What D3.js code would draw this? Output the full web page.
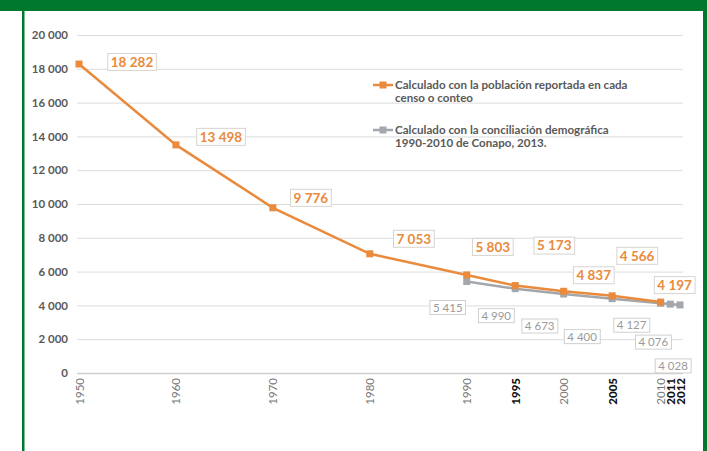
<!DOCTYPE html>
<html>
<head>
<meta charset="utf-8">
<script src="https://cdn.jsdelivr.net/npm/d3@7"></script>
<style>
  html, body { margin: 0; padding: 0; background: #fff; }
  svg { display: block; font-family: Lato, "Open Sans", sans-serif; }
</style>
</head>
<body>
<div id="chart"></div>
<script>
// --- data ---
const years = [1950, 1960, 1970, 1980, 1990, 1995, 2000, 2005, 2010, 2011, 2012];
const boldYears = [1995, 2005, 2011, 2012];
const yTicks = [0, 2000, 4000, 6000, 8000, 10000, 12000, 14000, 16000, 18000, 20000];

const censusYears = [1950, 1960, 1970, 1980, 1990, 1995, 2000, 2005, 2010];
const censusValues = [18282, 13498, 9776, 7053, 5803, 5173, 4837, 4566, 4197];

const conapoYears = [1990, 1995, 2000, 2005, 2010, 2011, 2012];
const conapoValues = [5415, 4990, 4673, 4400, 4127, 4076, 4028];

const legendLabels = [
  ["Calculado con la población reportada en cada", "censo o conteo"],
  ["Calculado con la conciliación demográfica", "1990-2010 de Conapo, 2013."]
];

// label placement (pixels, relative to the point)
const censusLabelOffsets = [[53, -2], [45, -8], [38, -10], [44, -15], [26, -28], [39, -40], [30, -16], [25, -40], [14, -17]];
const conapoLabelOffsets = [[-19, 26], [-19, 27], [-24, 32], [-30, 38], [-29, 22], [-17, 38], [-7, 61]];

const W = 707, H = 451;
const orange = "#e98a3c", grey = "#a3a7ab";

const svg = d3.select("#chart").append("svg")
  .attr("width", W)
  .attr("height", H);

/* frame */
svg.append("rect").attr("x", 0).attr("y", 0).attr("width", W).attr("height", 11).attr("fill", "#00782d");
svg.append("rect").attr("x", 22).attr("y", 0).attr("width", 2.5).attr("height", H).attr("fill", "#00782d");
svg.append("rect").attr("x", 703).attr("y", 0).attr("width", 4).attr("height", H).attr("fill", "#00782d");

const x = d3.scaleLinear().domain([1950, 2012]).range([79, 680]);
const y = d3.scaleLinear().domain([0, 20000]).range([373, 35]);

const fmt = (v) => d3.format(",")(v).replace(/,/g, " ");

/* y axis + gridlines */
const yAxis = svg.append("g")
  .attr("transform", "translate(77,0)")
  .call(d3.axisLeft(y).tickValues(yTicks).tickSize(-606).tickPadding(9).tickFormat(fmt));
yAxis.select(".domain").remove();
yAxis.selectAll(".tick line")
  .attr("stroke", (d) => d === 0 ? "#cfcfcf" : "#dcdcdc")
  .attr("stroke-width", (d) => d === 0 ? 1.6 : 1);
yAxis.selectAll(".tick text")
  .attr("fill", "#595959")
  .attr("font-size", "11.5px")
  .attr("font-weight", "bold")
  .attr("font-family", "Lato, sans-serif");

/* x axis */
const xAxis = svg.append("g")
  .attr("transform", "translate(0,373)")
  .call(d3.axisBottom(x).tickValues(years).tickSize(0).tickFormat(d3.format("d")));
xAxis.select(".domain").remove();
xAxis.selectAll(".tick text")
  .attr("transform", "rotate(-90)")
  .attr("text-anchor", "end")
  .attr("x", -5)
  .attr("y", 0)
  .attr("dy", "0.35em")
  .attr("font-size", "11.5px")
  .attr("font-family", "Lato, sans-serif")
  .attr("font-weight", (d) => boldYears.includes(d) ? "900" : "normal")
  .attr("fill", (d) => boldYears.includes(d) ? "#111" : "#777");

/* series */
const line = d3.line().x((d) => x(d[0])).y((d) => y(d[1]));

function drawSeries(xs, vs, color, cls) {
  const pts = xs.map((yr, i) => [yr, vs[i]]);
  const g = svg.append("g").attr("class", cls);
  g.append("path")
    .datum(pts)
    .attr("d", line)
    .attr("fill", "none")
    .attr("stroke", color)
    .attr("stroke-width", 2.5);
  g.selectAll("rect")
    .data(pts)
    .enter().append("rect")
    .attr("x", (d) => x(d[0]) - 3.5)
    .attr("y", (d) => y(d[1]) - 3.5)
    .attr("width", 7)
    .attr("height", 7)
    .attr("fill", color);
  return pts;
}

const conapoPts = drawSeries(conapoYears, conapoValues, grey, "conapo");
const censusPts = drawSeries(censusYears, censusValues, orange, "census");

/* data labels */
function drawLabels(pts, offsets, opts) {
  const g = svg.append("g");
  pts.forEach((d, i) => {
    const cx = x(d[0]) + offsets[i][0];
    const cy = y(d[1]) + offsets[i][1];
    const lg = g.append("g").attr("transform", `translate(${cx},${cy})`);
    const box = lg.append("rect").attr("fill", "#fff").attr("stroke", opts.border).attr("stroke-width", 1);
    const t = lg.append("text")
      .attr("text-anchor", "middle")
      .attr("dy", "0.36em")
      .attr("font-size", opts.size)
      .attr("font-weight", opts.weight)
      .attr("fill", opts.color)
      .text(fmt(d[1]));
    const bb = t.node().getBBox();
    box.attr("x", bb.x - opts.padX).attr("y", -opts.h / 2)
      .attr("width", bb.width + 2 * opts.padX).attr("height", opts.h);
  });
}

drawLabels(censusPts, censusLabelOffsets, { size: "13.5px", weight: "bold", color: orange, border: "#d8d4cf", padX: 3, h: 17 });
drawLabels(conapoPts, conapoLabelOffsets, { size: "11.5px", weight: "normal", color: "#9a9a9a", border: "#d0d0d0", padX: 3, h: 14 });

/* legend */
const legend = svg.append("g");
[orange, grey].forEach((c, i) => {
  const ly = i === 0 ? 85 : 130;
  legend.append("line").attr("x1", 373).attr("x2", 393).attr("y1", ly).attr("y2", ly)
    .attr("stroke", c).attr("stroke-width", 2.5);
  legend.append("rect").attr("x", 379.5).attr("y", ly - 3.5).attr("width", 7).attr("height", 7).attr("fill", c);
  legendLabels[i].forEach((txt, j) => {
    legend.append("text")
      .attr("x", 395)
      .attr("y", ly + j * 12.5)
      .attr("dy", "0.35em")
      .attr("font-size", "11.6px")
      .attr("font-weight", "bold")
      .attr("fill", "#595959")
      .text(txt);
  });
});
</script>
</body>
</html>
